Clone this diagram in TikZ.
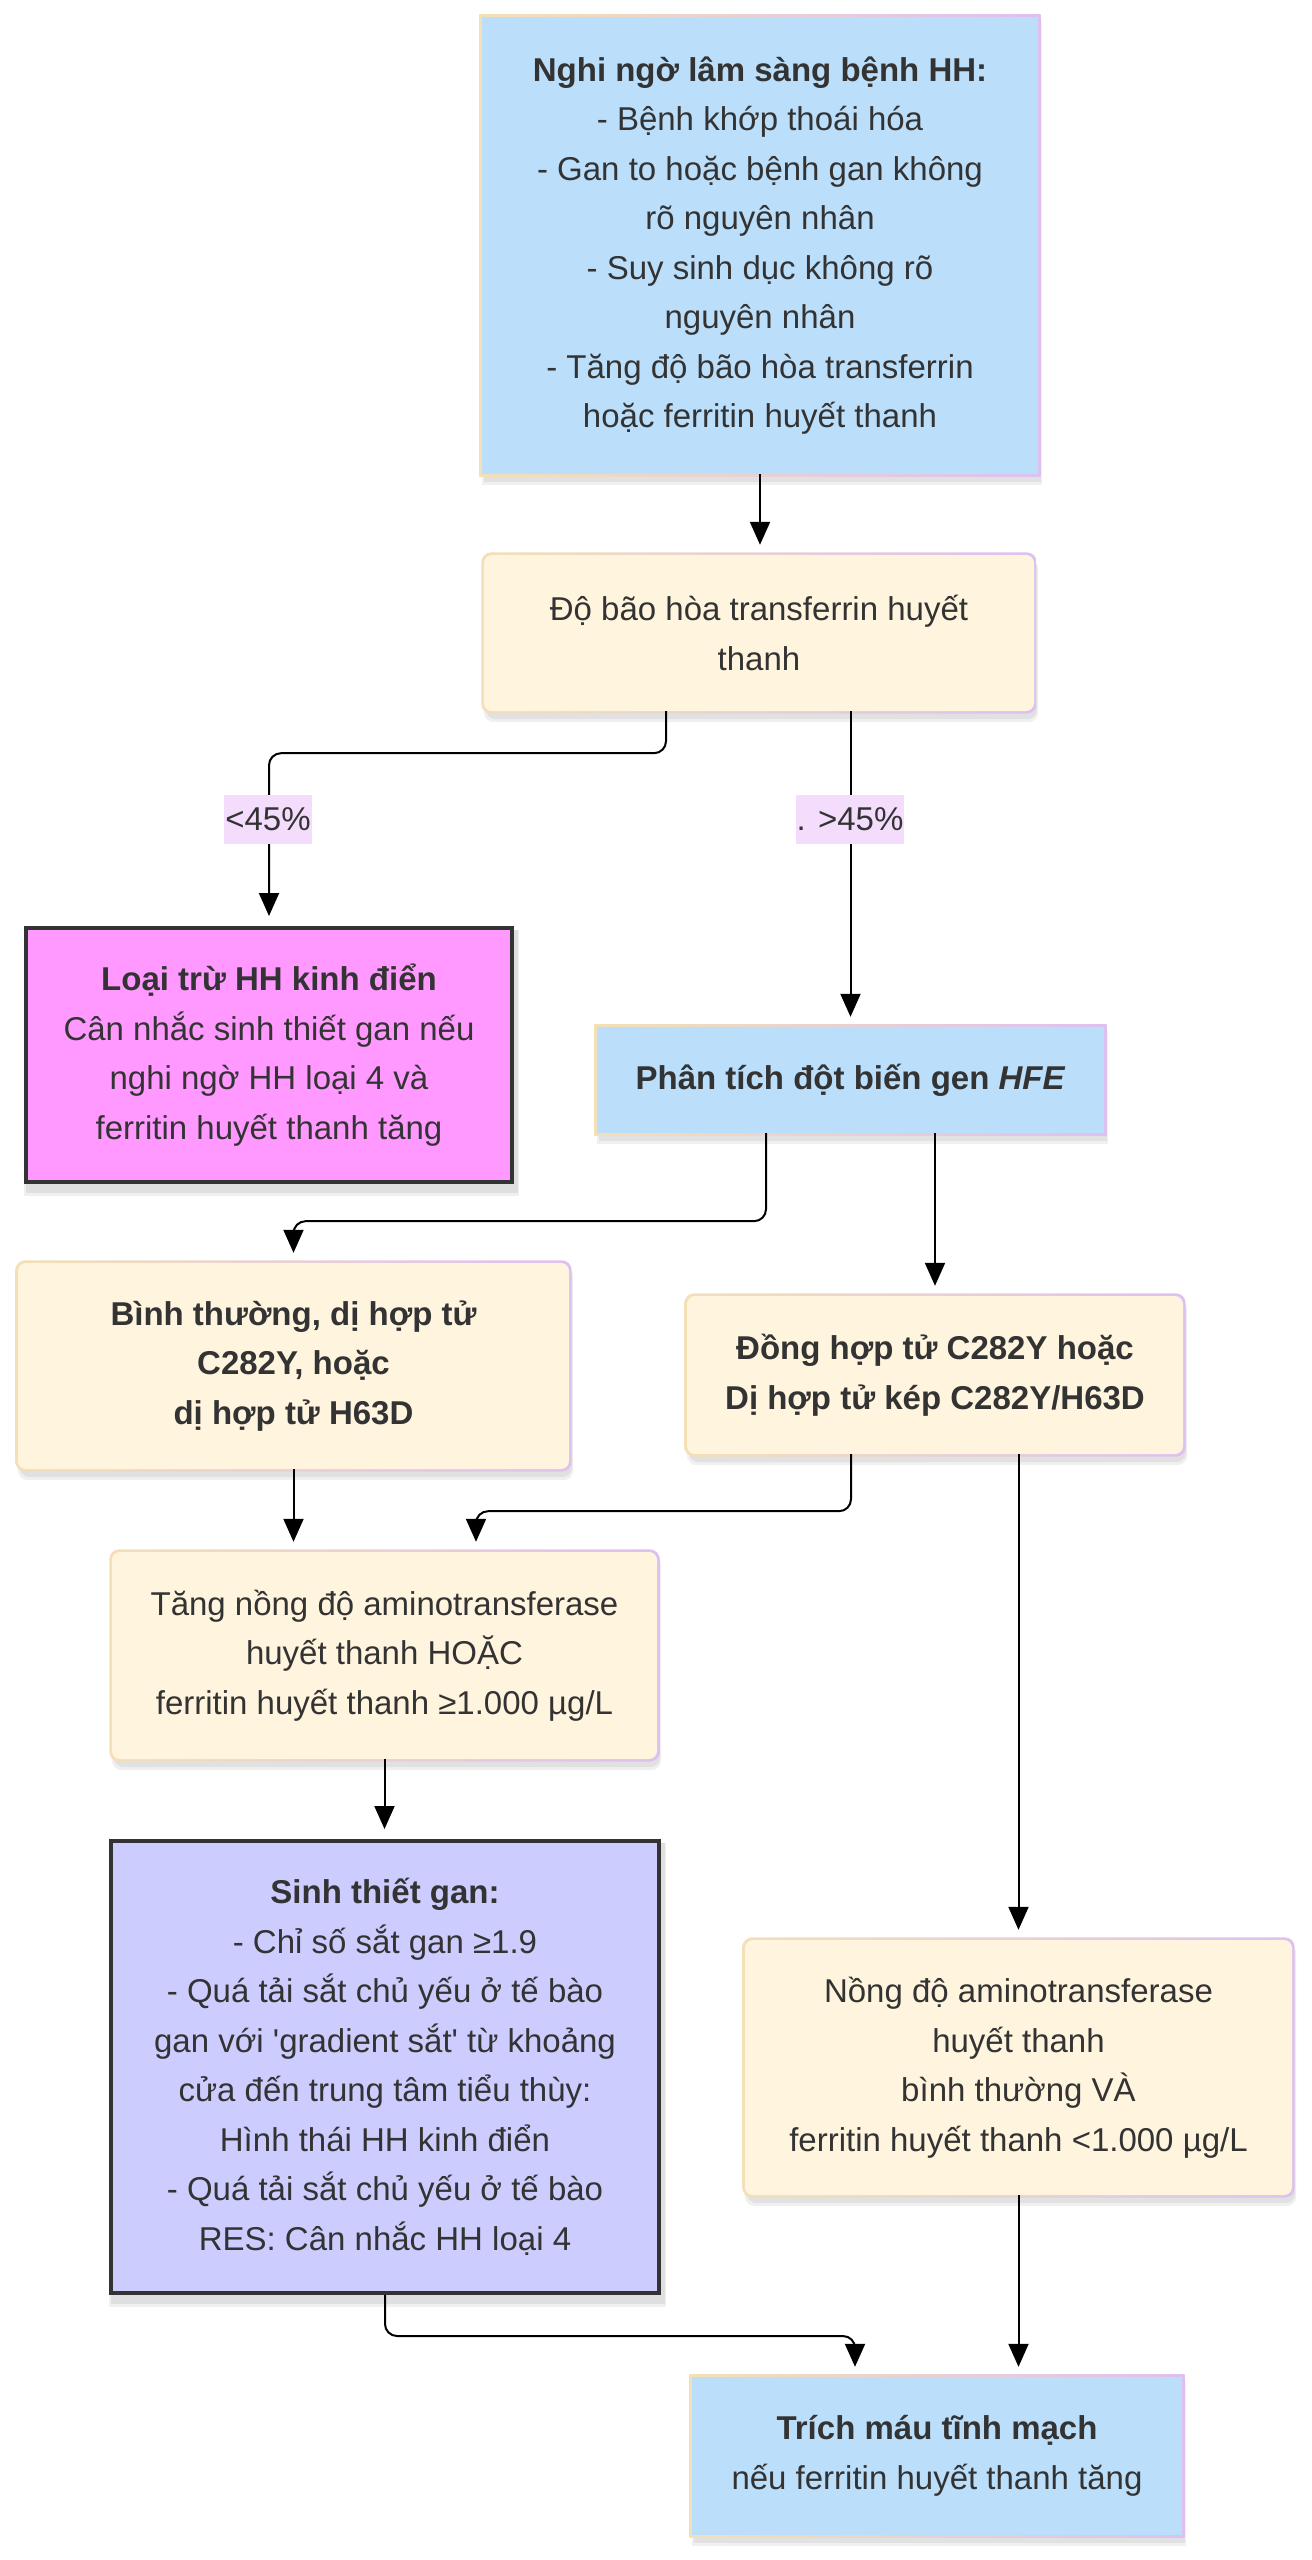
\documentclass[tikz,border=0pt]{standalone}
\usepackage{fontspec}
\setmainfont{Liberation Sans}
\usetikzlibrary{arrows.meta,calc,backgrounds}
\definecolor{cream}{HTML}{FFF4DE}
\definecolor{bluef}{HTML}{BBDEFA}
\definecolor{magf}{HTML}{FF99FF}
\definecolor{lavf}{HTML}{CCCCFF}
\definecolor{labbg}{HTML}{F4DCFC}
\definecolor{txt}{HTML}{333333}
\definecolor{dark}{HTML}{333333}
\definecolor{gbl}{HTML}{F3E0B6}
\definecolor{gbr}{HTML}{DEC0F0}
\newcommand{\gradborder}[2]{%
  \fill[black,opacity=0.06,rounded corners=#2] ($(#1.south west)+(0,11)$) rectangle ($(#1.north east)+(4,4)$);
  \fill[black,opacity=0.06,rounded corners=#2] ($(#1.south west)+(2,8)$) rectangle ($(#1.north east)+(3,4)$);
  \shade[left color=gbl,right color=gbr,rounded corners=#2] ($(#1.south west)+(-2.5,2.5)$) rectangle ($(#1.north east)+(2.5,-2.5)$);}
\newcommand{\shadowonly}[1]{%
  \fill[black,opacity=0.06] ($(#1.south west)+(0,12)$) rectangle ($(#1.north east)+(5,4)$);
  \fill[black,opacity=0.07] ($(#1.south west)+(2,9)$) rectangle ($(#1.north east)+(4,4)$);}
\begin{document}
\begin{tikzpicture}[x=1pt,y=-1pt,
  box/.style={inner sep=0pt, align=center, text=txt, font=\fontsize{33}{49.5}\selectfont},
  cbox/.style={box, fill=cream, rounded corners=8pt},
  bbox/.style={box, fill=bluef},
  dbox/.style={box, draw=dark, line width=4pt},
  arr/.style={draw=black, line width=2pt, -{Triangle[length=23pt,width=20pt]}, rounded corners=12pt, shorten >=10pt},
  lab/.style={fill=labbg, inner xsep=1pt, inner ysep=0pt, minimum height=49pt, text=txt, font=\fontsize{33}{49.5}\selectfont}
]
\useasboundingbox (0,0) rectangle (1312,2560);

\node[bbox, minimum width=556pt, minimum height=457pt] (n1) at (760,245.5)
  {\textbf{Nghi ngờ lâm sàng bệnh HH:}\\- Bệnh khớp thoái hóa\\- Gan to hoặc bệnh gan không\\rõ nguyên nhân\\- Suy sinh dục không rõ\\nguyên nhân\\- Tăng độ bão hòa transferrin\\hoặc ferritin huyết thanh};
\node[cbox, minimum width=550pt, minimum height=156pt] (n2) at (759,633)
  {Độ bão hòa transferrin huyết\\thanh};
\node[dbox, fill=magf, minimum width=486pt, minimum height=254pt] (n3) at (269,1055)
  {\textbf{Loại trừ HH kinh điển}\\Cân nhắc sinh thiết gan nếu\\nghi ngờ HH loại 4 và\\ferritin huyết thanh tăng};
\node[bbox, minimum width=507pt, minimum height=106pt] (n4) at (850.5,1080)
  {\textbf{Phân tích đột biến gen \textit{HFE}}};
\node[cbox, minimum width=551pt, minimum height=206pt] (n5) at (293.5,1366)
  {\textbf{Bình thường, dị hợp tử}\\\textbf{C282Y, hoặc}\\\textbf{dị hợp tử H63D}};
\node[cbox, minimum width=496pt, minimum height=158pt] (n6) at (935,1375)
  {\textbf{Đồng hợp tử C282Y hoặc}\\\textbf{Dị hợp tử kép C282Y/H63D}};
\node[cbox, minimum width=545pt, minimum height=207pt] (n7) at (384.5,1655.5)
  {Tăng nồng độ aminotransferase\\huyết thanh HOẶC\\ferritin huyết thanh ≥1.000 µg/L};
\node[dbox, fill=lavf, minimum width=548pt, minimum height=452pt] (n8) at (385,2067)
  {\textbf{Sinh thiết gan:}\\- Chỉ số sắt gan ≥1.9\\- Quá tải sắt chủ yếu ở tế bào\\gan với \textquotesingle gradient sắt\textquotesingle{} từ khoảng\\cửa đến trung tâm tiểu thùy:\\Hình thái HH kinh điển\\- Quá tải sắt chủ yếu ở tế bào\\RES: Cân nhắc HH loại 4};
\node[cbox, minimum width=547pt, minimum height=255pt] (n9) at (1018.5,2067.5)
  {Nồng độ aminotransferase\\huyết thanh\\bình thường VÀ\\ferritin huyết thanh <1.000 µg/L};
\node[bbox, minimum width=490pt, minimum height=158pt] (n10) at (937,2456)
  {\textbf{Trích máu tĩnh mạch}\\nếu ferritin huyết thanh tăng};

\begin{scope}[on background layer]
  \fill[white] (0,0) rectangle (1312,2560);
  \gradborder{n1}{0pt}
  \gradborder{n2}{10pt}
  \shadowonly{n3}
  \gradborder{n4}{0pt}
  \gradborder{n5}{10pt}
  \gradborder{n6}{10pt}
  \gradborder{n7}{10pt}
  \shadowonly{n8}
  \gradborder{n9}{10pt}
  \gradborder{n10}{0pt}
\end{scope}

% connectors
\draw[arr] (n1.south) -- (n1.south |- n2.north);
\draw[arr] ($(n2.south)+(-93,0)$) -- ++(0,42) -| (n3.north);
\draw[arr] (n4.north |- n2.south) -- (n4.north);
\draw[arr] ($(n4.south)+(-84.5,0)$) -- ++(0,88) -| (n5.north);
\draw[arr] (n6.north |- n4.south) -- (n6.north);
\draw[arr] (n5.south) -- (n5.south |- n7.north);
\draw[arr] ($(n6.south)+(-84,0)$) -- ++(0,57) -| ($(n7.north)+(91.5,0)$);
\draw[arr] (n7.south) -- (n7.south |- n8.north);
\draw[arr] (n9.north |- n6.south) -- (n9.north);
\draw[arr] (n8.south) -- ++(0,41) -| ($(n10.north)+(-82,0)$);
\draw[arr] (n9.south) -- (n9.south |- n10.north);

% labels
\node[lab] (l1) at (268,819) {<45\%};
\node[lab] (l2) at (850,819) {. >45\%};
\end{tikzpicture}
\end{document}
